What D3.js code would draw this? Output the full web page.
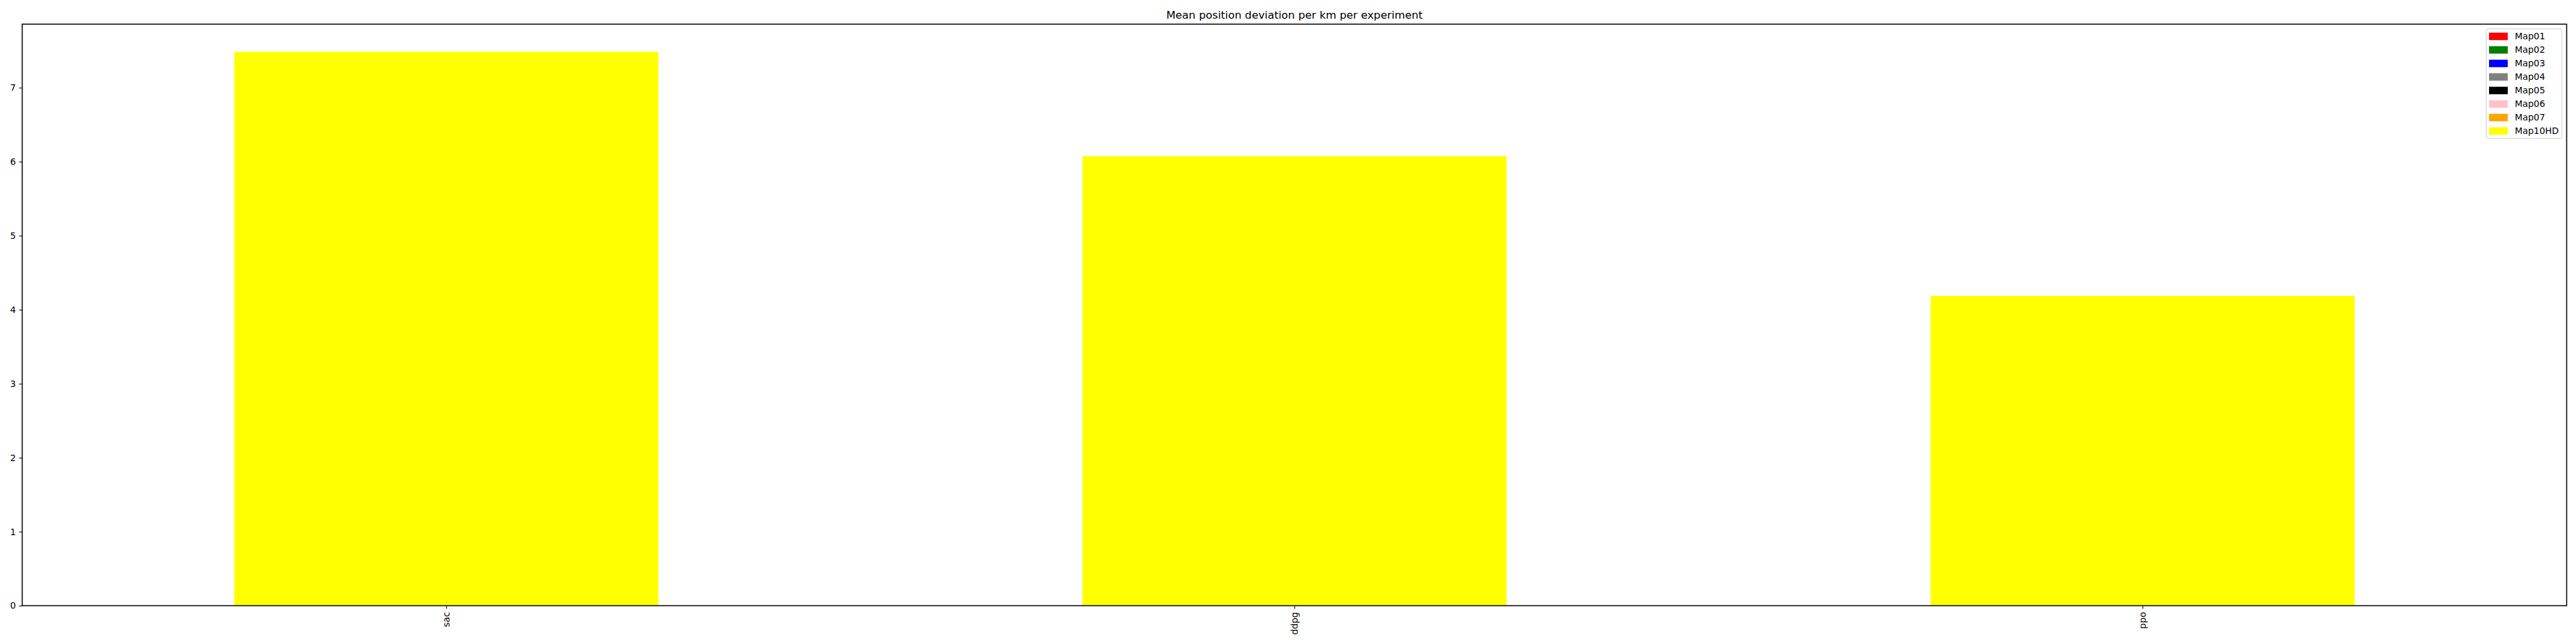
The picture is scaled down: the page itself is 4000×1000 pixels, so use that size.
<!DOCTYPE html>
<html>
<head>
<meta charset="utf-8">
<script src="https://cdn.jsdelivr.net/npm/d3@7"></script>
<style>
  html, body { margin: 0; padding: 0; background: #fff; }
  svg { display: block; font-family: "DejaVu Sans", sans-serif; }
</style>
</head>
<body>
<svg id="chart" width="4000" height="1000"></svg>
<script>
// ---- data ----
const categories = ["sac", "ddpg", "ppo"];
const seriesNames = ["Map01", "Map02", "Map03", "Map04", "Map05", "Map06", "Map07", "Map10HD"];
const seriesColors = ["red", "green", "blue", "grey", "black", "pink", "orange", "yellow"];
// Only the last drawn series (Map10HD) is visible; it covers the others
const map10hdValues = [7.485, 6.075, 4.187];
const yTicks = [0, 1, 2, 3, 4, 5, 6, 7];
const title = "Mean position deviation per km per experiment";

// ---- layout ----
const svg = d3.select("#chart");
const margin = { left: 34.5, top: 37.5, right: 14.5, bottom: 60 };
const W = 4000;
const plotR = W - margin.right, plotB = 940.5;

const x = d3.scaleLinear().domain([-0.5, 2.5]).range([margin.left, plotR]);
const y = d3.scaleLinear().domain([0, 7.859]).range([plotB, margin.top]);
const barWidth = 0.5;

// bars
svg.append("g").selectAll("rect")
  .data(categories.map((c, i) => ({ c, i, v: map10hdValues[i] })))
  .join("rect")
  .attr("x", d => x(d.i - barWidth / 2))
  .attr("width", d => x(d.i + barWidth / 2) - x(d.i - barWidth / 2))
  .attr("y", d => y(d.v))
  .attr("height", d => y(0) - y(d.v))
  .attr("fill", seriesColors[seriesColors.length - 1]);

// y axis
const yAxis = d3.axisLeft(y).tickValues(yTicks).tickFormat(d3.format("d")).tickSize(4.9).tickPadding(4.9);
const gy = svg.append("g").attr("transform", `translate(${margin.left},0)`).call(yAxis);
gy.select(".domain").remove();
gy.selectAll("line").attr("stroke", "#000").attr("stroke-width", 1.1);
gy.selectAll("text").attr("font-size", "13.9px").attr("fill", "#000").attr("font-family", "DejaVu Sans");

// x axis
const xAxis = d3.axisBottom(x).tickValues(d3.range(categories.length)).tickFormat(i => categories[i]).tickSize(4.9).tickPadding(4.9);
const gx = svg.append("g").attr("transform", `translate(0,${plotB})`).call(xAxis);
gx.select(".domain").remove();
gx.selectAll("line").attr("stroke", "#000").attr("stroke-width", 1.1);
gx.selectAll("text")
  .attr("font-size", "13.9px").attr("fill", "#000").attr("font-family", "DejaVu Sans")
  .attr("transform", "rotate(-90)")
  .attr("y", 0).attr("x", -9.8).attr("dy", "0.35em")
  .attr("text-anchor", "end");

// frame
svg.append("rect")
  .attr("x", margin.left).attr("y", margin.top)
  .attr("width", plotR - margin.left).attr("height", plotB - margin.top)
  .attr("fill", "none").attr("stroke", "#000").attr("stroke-width", 1.6);

// title
svg.append("text")
  .attr("x", (margin.left + plotR) / 2).attr("y", 29)
  .attr("text-anchor", "middle").attr("font-size", "16.7px").attr("fill", "#000")
  .text(title);

// legend
const lg = svg.append("g");
lg.append("rect")
  .attr("x", 3860.7).attr("y", 44.7).attr("width", 117.3).attr("height", 170.3)
  .attr("rx", 3).attr("fill", "#fff").attr("fill-opacity", 0.8)
  .attr("stroke", "#ccc").attr("stroke-width", 1);
const items = lg.selectAll("g.item").data(seriesNames.map((n, i) => ({ n, c: seriesColors[i], i })))
  .join("g").attr("class", "item")
  .attr("transform", d => `translate(0,${d.i * 21})`);
items.append("rect")
  .attr("x", 3865).attr("y", 50.7).attr("width", 29).attr("height", 11.6)
  .attr("fill", d => d.c);
items.append("text")
  .attr("x", 3905).attr("y", 56.5).attr("dy", "0.35em")
  .attr("font-size", "13.9px").attr("fill", "#000")
  .text(d => d.n);
</script>
</body>
</html>
